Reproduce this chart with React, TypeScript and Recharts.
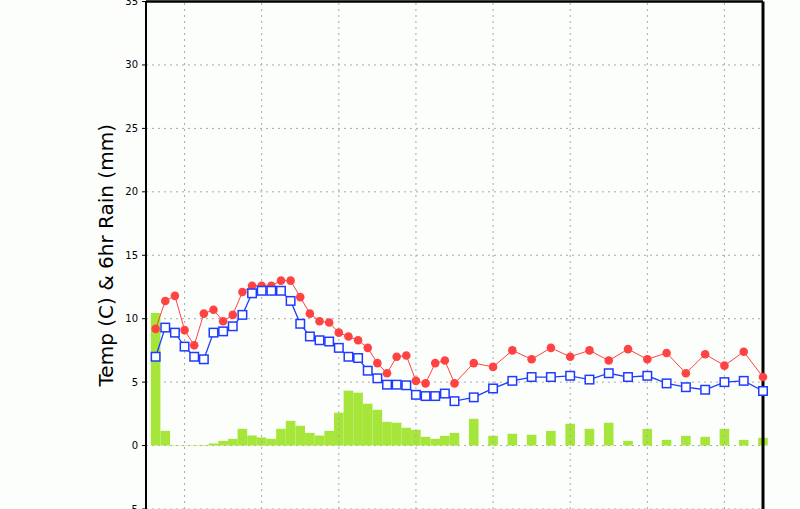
import React from 'react';
import {
  ComposedChart,
  Bar,
  Line,
  XAxis,
  YAxis,
  CartesianGrid,
  ReferenceLine,
} from 'recharts';

// forecast hour: 3-hourly to 96h, then 6-hourly
const hours = [
  3, 6, 9, 12, 15, 18, 21, 24, 27, 30, 33, 36, 39, 42, 45, 48,
  51, 54, 57, 60, 63, 66, 69, 72, 75, 78, 81, 84, 87, 90, 93, 96,
  102, 108, 114, 120, 126, 132, 138, 144, 150, 156, 162, 168, 174, 180, 186, 192,
];

const temperature = [
  9.2, 11.4, 11.8, 9.1, 7.9, 10.4, 10.7, 9.8, 10.3, 12.1, 12.6, 12.6, 12.6, 13.0, 13.0, 11.7,
  10.4, 9.8, 9.7, 8.9, 8.6, 8.3, 7.7, 6.5, 5.7, 7.0, 7.1, 5.1, 4.9, 6.5, 6.7, 4.9,
  6.5, 6.2, 7.5, 6.8, 7.7, 7.0, 7.5, 6.7, 7.6, 6.8, 7.3, 5.7, 7.2, 6.3, 7.4, 5.4,
];

const dewPoint = [
  7.0, 9.3, 8.9, 7.8, 7.0, 6.8, 8.9, 9.0, 9.4, 10.3, 12.0, 12.2, 12.2, 12.2, 11.4, 9.6,
  8.6, 8.3, 8.2, 7.7, 7.0, 6.9, 5.9, 5.3, 4.8, 4.8, 4.75, 4.0, 3.9, 3.9, 4.1, 3.5,
  3.8, 4.5, 5.1, 5.4, 5.4, 5.5, 5.2, 5.7, 5.4, 5.5, 4.9, 4.6, 4.4, 5.0, 5.1, 4.3,
];

const rain = [
  10.45, 1.16, 0.03, 0.03, 0.03, 0.05, 0.16, 0.37, 0.53, 1.32, 0.79, 0.64, 0.53, 1.32, 1.95, 1.56,
  1.0, 0.79, 1.16, 2.59, 4.33, 4.17, 3.3, 2.82, 1.87, 1.8, 1.4, 1.24, 0.69, 0.53, 0.77, 1.0,
  2.11, 0.77, 0.93, 0.85, 1.16, 1.72, 1.32, 1.8, 0.37, 1.32, 0.45, 0.77, 0.69, 1.32, 0.45, 0.61,
];

const yTicks = [-5, 0, 5, 10, 15, 20, 25, 30, 35];
const dayTicks = [12, 36, 60, 84, 108, 132, 156, 180];

const data = hours.map((hour, i) => ({
  hour,
  temp: temperature[i],
  dew: dewPoint[i],
  rain: rain[i],
}));

const gridStroke = '#a8a8a8';
const gridDash = '2 4';

const SquareDot = (props: any) => {
  const { cx, cy } = props;
  if (cx == null || cy == null) return null;
  return (
    <rect
      x={cx - 4.25}
      y={cy - 4.25}
      width={8.5}
      height={8.5}
      fill='#ffffff'
      stroke='#1e3cff'
      strokeWidth={1.5}
    />
  );
};

const AxisTitle = (props: any) => {
  const vb = props.viewBox || {};
  const cy = vb.height ? vb.y + vb.height / 2 : 255;
  const cx = 106;
  return (
    <text
      x={cx}
      y={cy}
      transform={`rotate(-90 ${cx} ${cy})`}
      textAnchor='middle'
      dominantBaseline='central'
      fontFamily='DejaVu Sans'
      fontSize={20}
      fill='#000'
    >
      {'Temp (C) & 6hr Rain (mm)'}
    </text>
  );
};

const App: React.FC = () => {
  return (
    <div
      style={{
        position: 'absolute',
        left: 0,
        top: 0,
        width: 800,
        height: 509,
        background: '#fcfefc',
      }}
    >
      <ComposedChart
        width={800}
        height={509}
        data={data}
        margin={{ top: 1.5, right: 37, bottom: 0, left: 0 }}
      >
        <XAxis
          dataKey='hour'
          type='number'
          domain={[0, 192]}
          ticks={dayTicks}
          height={0}
          tick={false}
          tickLine={false}
          axisLine={false}
        />
        <YAxis
          type='number'
          domain={[-5, 35]}
          ticks={yTicks}
          width={146}
          tickSize={4}
          tickMargin={4}
          interval={0}
          axisLine={{ stroke: '#000', strokeWidth: 2 }}
          tickLine={{ stroke: '#000' }}
          tick={{ fill: '#000', fontSize: 10, fontFamily: 'DejaVu Sans' }}
          label={<AxisTitle />}
        />
        <Bar
          dataKey='rain'
          fill='#a6e63a'
          barSize={9.6}
          isAnimationActive={false}
        />
        <CartesianGrid
          stroke={gridStroke}
          strokeDasharray={gridDash}
          vertical={false}
        />
        {dayTicks.map((t) => (
          <ReferenceLine
            key={t}
            x={t}
            stroke={gridStroke}
            strokeDasharray={gridDash}
          />
        ))}
        <ReferenceLine y={35} stroke='#000' strokeWidth={2.5} />
        <ReferenceLine x={192} stroke='#000' strokeWidth={3} />
        <Line
          type='linear'
          dataKey='temp'
          stroke='#ff4242'
          strokeWidth={1}
          dot={{ r: 4.3, fill: '#ff4242', stroke: '#ff4242', strokeWidth: 0 }}
          activeDot={false}
          isAnimationActive={false}
        />
        <Line
          type='linear'
          dataKey='dew'
          stroke='#1e3cff'
          strokeWidth={1.3}
          dot={<SquareDot />}
          activeDot={false}
          isAnimationActive={false}
        />
      </ComposedChart>
    </div>
  );
};

export default App;
